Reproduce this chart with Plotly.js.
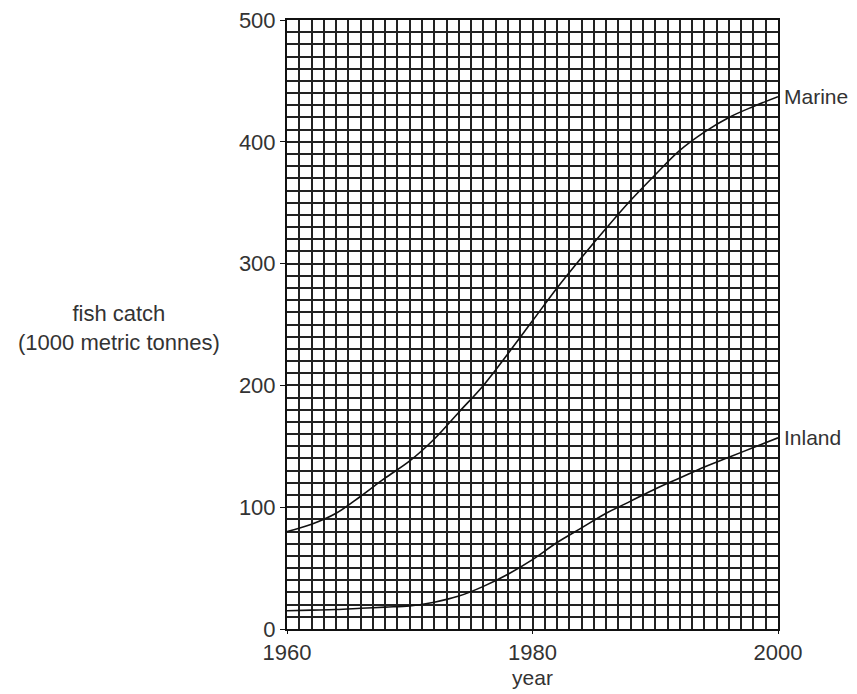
<!DOCTYPE html>
<html>
<head>
<meta charset="utf-8">
<script src="https://cdn.plot.ly/plotly-3.0.1.min.js"></script>
<style>html,body{margin:0;padding:0;background:#fff;}#chart{width:857px;height:694px;}</style>
</head>
<body>
<div id="chart"></div>
<script>
const years = [1960,1962,1964,1966,1968,1970,1972,1974,1976,1978,1980,1982,1984,1986,1988,1990,1992,1994,1996,1998,2000];
const marine = [80,86,95,109,124,138,156,178,200,226,253,280,305,329,352,373,393,408,420,429,437];
const inland = [15,15.5,16,17,18,19,22,27,35,45,57,71,83,95,105,115,124,133,141,149,157];
const seriesNames = ["Marine","Inland"];
const xTickVals = [1960,1980,2000];
const yTickVals = [0,100,200,300,400,500];
const yAxisLabel = "fish catch<br>(1000 metric tonnes)";
const xAxisLabel = "year";

const gridCol = "#222222";
const txtCol = "#333333";
const fnt = "Liberation Sans, Arial, sans-serif";

const traces = [marine, inland].map((ys, i) => ({
  x: years, y: ys, type: "scatter", mode: "lines",
  name: seriesNames[i],
  line: {color: "#111", width: 1.6, shape: "spline", smoothing: 1},
  hoverinfo: "skip"
}));

const layout = {
  width: 857, height: 694,
  margin: {l: 287, r: 79, t: 20, b: 65},
  paper_bgcolor: "#fff", plot_bgcolor: "#fff",
  showlegend: false,
  font: {family: fnt, color: txtCol, size: 20},
  xaxis: {
    range: [1960, 2000],
    tickmode: "array", tickvals: xTickVals,
    showgrid: true, gridcolor: gridCol, gridwidth: 2,
    minor: {tickmode: "linear", tick0: 1960, dtick: 1, showgrid: true, gridcolor: gridCol, gridwidth: 2},
    showline: true, linecolor: "#111", linewidth: 2, mirror: true,
    ticks: "outside", ticklen: 3, tickcolor: "#111",
    tickfont: {family: fnt, size: 22, color: txtCol},
    zeroline: false,
    title: {text: xAxisLabel, font: {family: fnt, size: 21, color: txtCol}, standoff: 6}
  },
  yaxis: {
    range: [0, 500],
    tickmode: "array", tickvals: yTickVals,
    showgrid: true, gridcolor: gridCol, gridwidth: 2,
    minor: {tickmode: "linear", tick0: 0, dtick: 10, showgrid: true, gridcolor: gridCol, gridwidth: 2},
    showline: true, linecolor: "#111", linewidth: 2, mirror: true,
    ticks: "outside", ticklen: 5, tickcolor: "#111",
    tickfont: {family: fnt, size: 22, color: txtCol},
    zeroline: false
  },
  annotations: [
    {xref: "paper", yref: "paper", x: -0.343, y: 0.495, xanchor: "center", yanchor: "middle",
     text: yAxisLabel, showarrow: false, align: "center",
     font: {family: fnt, size: 22, color: txtCol}},
    {x: 2000, y: marine[marine.length-1], xanchor: "left", yanchor: "middle", xshift: 4,
     text: seriesNames[0], showarrow: false, font: {family: fnt, size: 21, color: txtCol}},
    {x: 2000, y: inland[inland.length-1], xanchor: "left", yanchor: "middle", xshift: 4,
     text: seriesNames[1], showarrow: false, font: {family: fnt, size: 21, color: txtCol}}
  ]
};

Plotly.newPlot("chart", traces, layout, {staticPlot: true, displayModeBar: false});
</script>
</body>
</html>
